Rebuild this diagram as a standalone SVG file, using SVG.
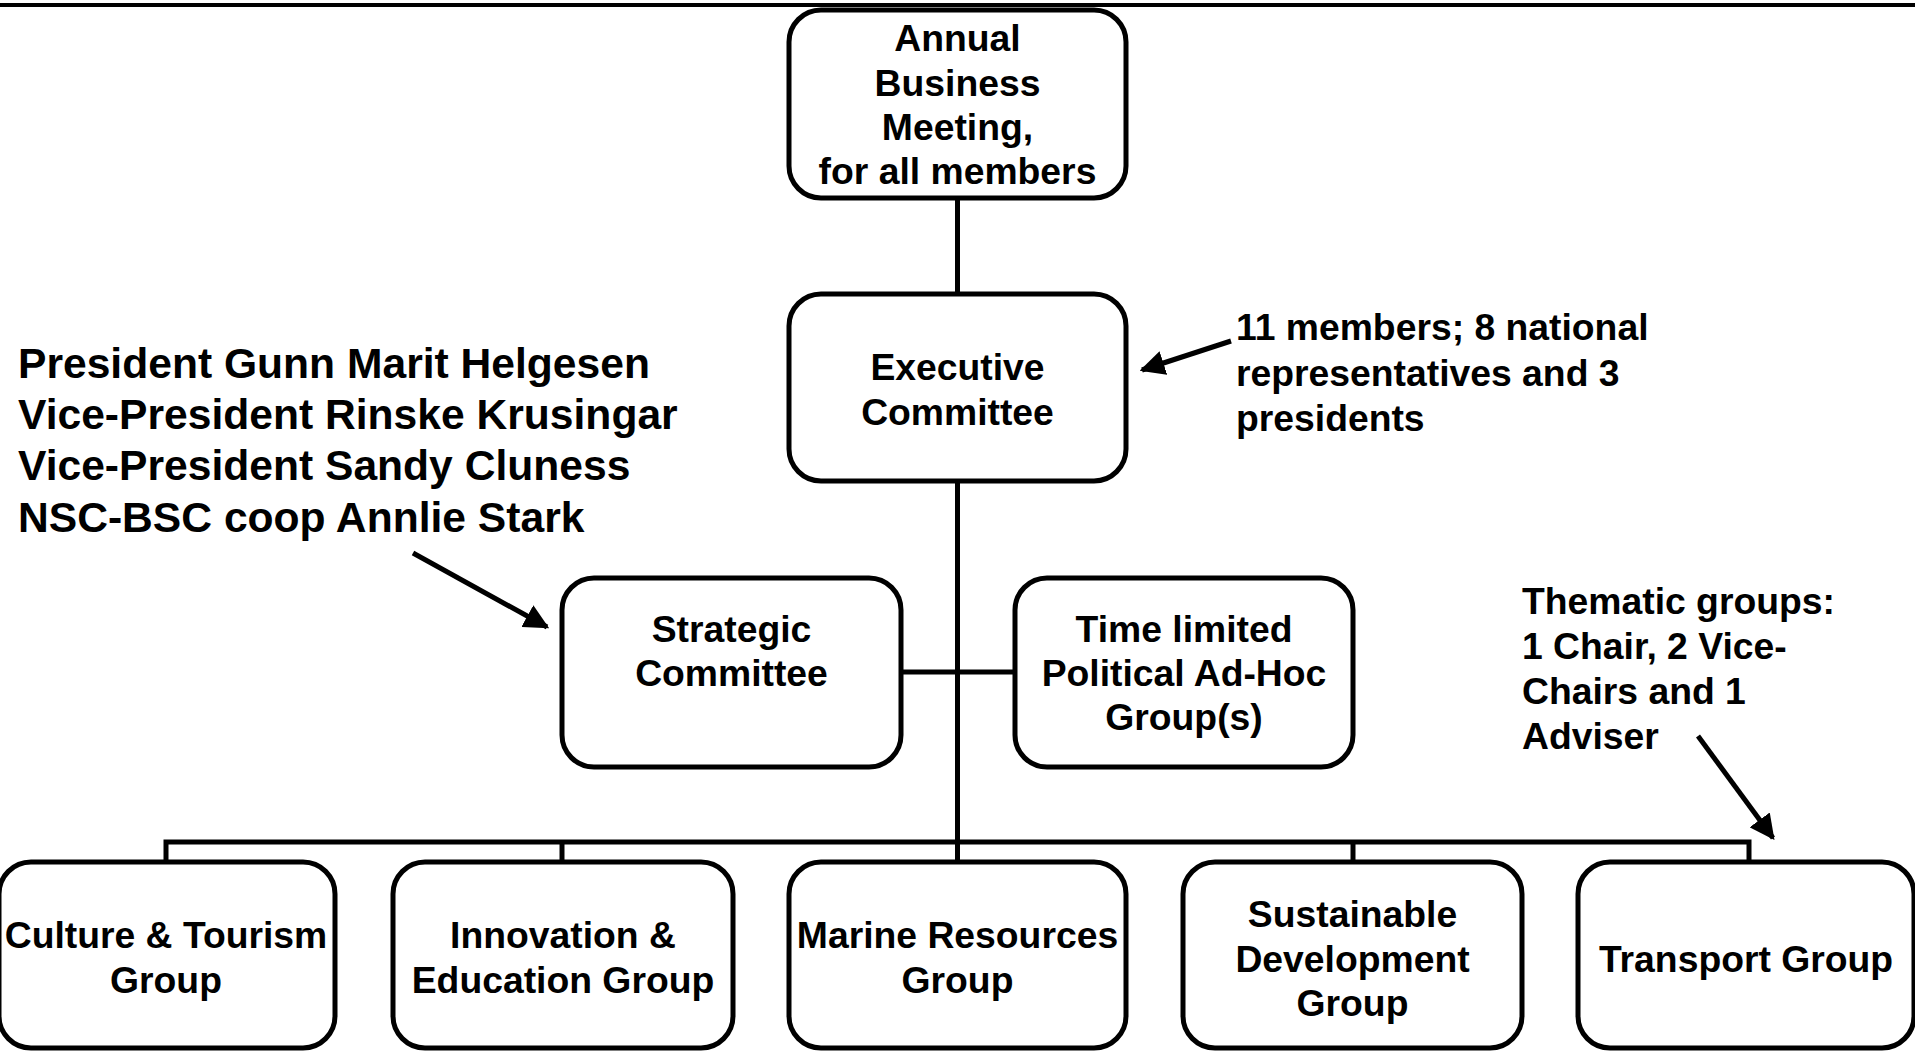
<svg xmlns="http://www.w3.org/2000/svg" width="1915" height="1051" viewBox="0 0 1915 1051">
<defs>
<style>
.box{fill:#fff;stroke:#000;stroke-width:5}
.t{font-family:"Liberation Sans",Arial,sans-serif;font-weight:bold;font-size:37.3px;fill:#000;text-anchor:middle}
.n{font-family:"Liberation Sans",Arial,sans-serif;font-weight:bold;font-size:37.3px;fill:#000}
.big{font-size:42.6px}
.c{stroke:#000;stroke-width:5;fill:none}
</style>
<marker id="ah" viewBox="0 0 10 10" refX="9" refY="5" markerWidth="5" markerHeight="5" orient="auto" markerUnits="strokeWidth">
<path d="M0,0 L10,5 L0,10 z" fill="#000"/>
</marker>
</defs>
<rect width="1915" height="1051" fill="#fff"/>
<line x1="0" y1="5" x2="1915" y2="5" stroke="#000" stroke-width="4"/>
<g id="connectors">
<line class="c" x1="957.5" y1="198" x2="957.5" y2="294"/>
<line class="c" x1="957.5" y1="481" x2="957.5" y2="842"/>
<line class="c" x1="901" y1="672" x2="1015" y2="672"/>
<polyline class="c" points="166,862 166,842 1749,842 1749,862"/>
<line class="c" x1="562" y1="842" x2="562" y2="862"/>
<line class="c" x1="957.5" y1="842" x2="957.5" y2="862"/>
<line class="c" x1="1353" y1="842" x2="1353" y2="862"/>
<line class="c" x1="1231" y1="341" x2="1142" y2="370" marker-end="url(#ah)"/>
<line class="c" x1="413" y1="553" x2="547" y2="627" marker-end="url(#ah)"/>
<line class="c" x1="1698" y1="736" x2="1773" y2="838" marker-end="url(#ah)"/>
</g>
<g id="annual">
<rect class="box" x="789" y="10" width="337" height="188" rx="32"/>
<text class="t" x="957.5" y="51">Annual</text>
<text class="t" x="957.5" y="96">Business</text>
<text class="t" x="957.5" y="140">Meeting,</text>
<text class="t" x="957.5" y="184">for all members</text>
</g>
<g id="executive">
<rect class="box" x="789" y="294" width="337" height="187" rx="32"/>
<text class="t" x="957.5" y="380">Executive</text>
<text class="t" x="957.5" y="425">Committee</text>
</g>
<g id="exec-note">
<text class="n" x="1236" y="340">11 members; 8 national</text>
<text class="n" x="1236" y="386">representatives and 3</text>
<text class="n" x="1236" y="431">presidents</text>
</g>
<g id="presidents-note">
<text class="n big" x="18" y="378">President Gunn Marit Helgesen</text>
<text class="n big" x="18" y="429">Vice-President Rinske Krusingar</text>
<text class="n big" x="18" y="480">Vice-President Sandy Cluness</text>
<text class="n big" x="18" y="532">NSC-BSC coop Annlie Stark</text>
</g>
<g id="strategic">
<rect class="box" x="562" y="578" width="339" height="189" rx="32"/>
<text class="t" x="731.5" y="642">Strategic</text>
<text class="t" x="731.5" y="686">Committee</text>
</g>
<g id="adhoc">
<rect class="box" x="1015" y="578" width="338" height="189" rx="32"/>
<text class="t" x="1184" y="642">Time limited</text>
<text class="t" x="1184" y="686">Political Ad-Hoc</text>
<text class="t" x="1184" y="730">Group(s)</text>
</g>
<g id="thematic-note">
<text class="n" x="1522" y="614">Thematic groups:</text>
<text class="n" x="1522" y="659">1 Chair, 2 Vice-</text>
<text class="n" x="1522" y="704">Chairs and 1</text>
<text class="n" x="1522" y="749">Adviser</text>
</g>
<g id="culture">
<rect class="box" x="-1" y="862" width="336" height="186" rx="32"/>
<text class="t" x="166" y="948">Culture &amp; Tourism</text>
<text class="t" x="166" y="993">Group</text>
</g>
<g id="innovation">
<rect class="box" x="393" y="862" width="340" height="186" rx="32"/>
<text class="t" x="563" y="948">Innovation &amp;</text>
<text class="t" x="563" y="993">Education Group</text>
</g>
<g id="marine">
<rect class="box" x="789" y="862" width="337" height="186" rx="32"/>
<text class="t" x="957.5" y="948">Marine Resources</text>
<text class="t" x="957.5" y="993">Group</text>
</g>
<g id="sustainable">
<rect class="box" x="1183" y="862" width="339" height="186" rx="32"/>
<text class="t" x="1352.5" y="927">Sustainable</text>
<text class="t" x="1352.5" y="972">Development</text>
<text class="t" x="1352.5" y="1016">Group</text>
</g>
<g id="transport">
<rect class="box" x="1578" y="862" width="336" height="186" rx="32"/>
<text class="t" x="1746" y="972">Transport Group</text>
</g>
</svg>
